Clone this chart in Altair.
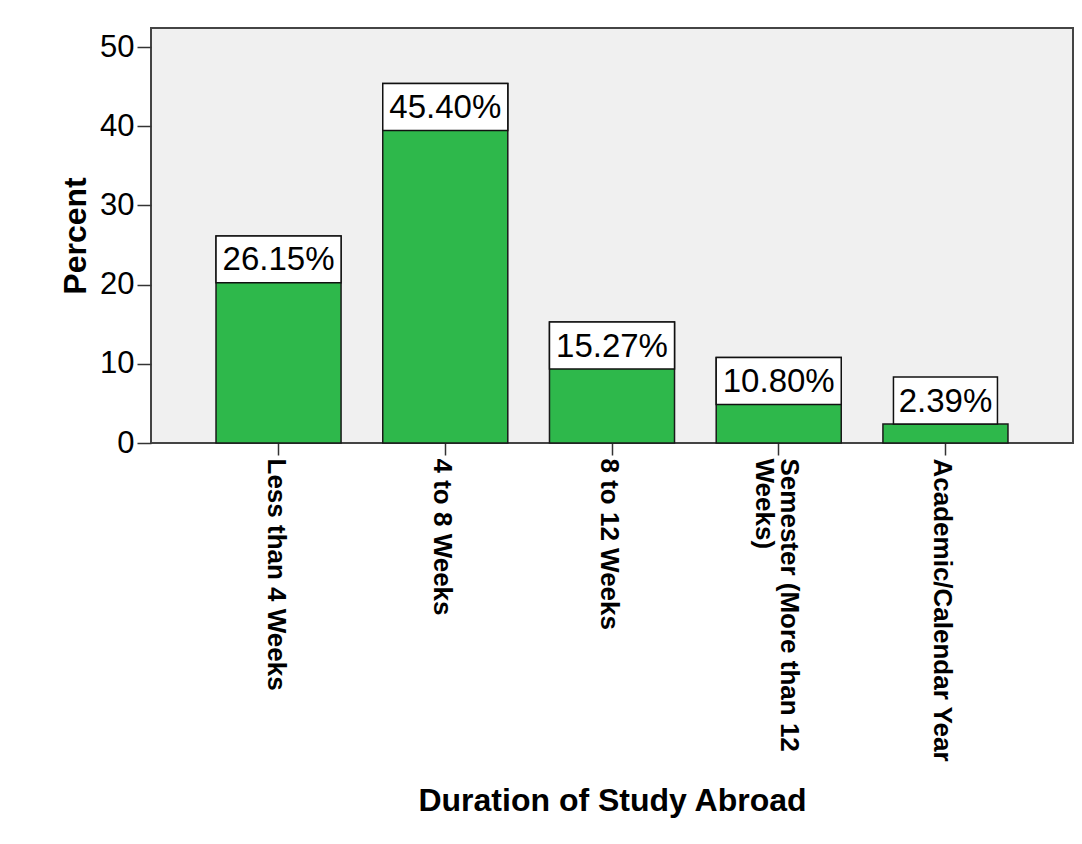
import altair as alt
import pandas as pd

categories = ["Less than 4 Weeks", "4 to 8 Weeks", "8 to 12 Weeks",
              "Semester (More than 12 Weeks)", "Academic/Calendar Year"]
percents = [26.15, 45.40, 15.27, 10.80, 2.39]
labels = ["26.15%", "45.40%", "15.27%", "10.80%", "2.39%"]
y_ticks = [0, 10, 20, 30, 40, 50]

df = pd.DataFrame({"cat": categories, "pct": percents, "label": labels})

FONT = "Liberation Sans, Arial, Helvetica, sans-serif"
BOX = 5.93  # label box height expressed in percent units
SEM = "Semester (More than 12 Weeks)"

x_enc = alt.X(
    "cat:N", sort=categories,
    scale=alt.Scale(paddingInner=0.25, paddingOuter=0.39),
    axis=alt.Axis(
        title="Duration of Study Abroad", labelAngle=90, labelAlign="left",
        labelBaseline="middle", labelFont=FONT, labelFontSize=26,
        labelFontWeight="bold", labelColor="black", labelPadding=3,
        labelLimit=400, labelLineHeight=25,
        labelOffset={"condition": {"test": f"datum.value == '{SEM}'", "value": 10}, "value": -3},
        labelExpr=f"datum.value == '{SEM}' ? ['Semester (More than 12', 'Weeks)'] : datum.label",
        tickSize=12, tickColor="#333", tickWidth=1.5, domain=False,
        titleFont=FONT, titleFontSize=32, titleFontWeight="bold",
        titleColor="black", titleY=367, titleBaseline="alphabetic",
    ),
)
y_scale = alt.Scale(domain=[0, 52.4], nice=False)
y_axis = alt.Axis(
    title="Percent", values=y_ticks, grid=False, domain=False,
    labelFont=FONT, labelFontSize=31, labelColor="black", labelPadding=3,
    tickSize=14, tickColor="#333", tickWidth=1.5,
    titleFont=FONT, titleFontSize=32, titleFontWeight="bold",
    titleColor="black", titleX=-66, titleBaseline="alphabetic",
)

base = alt.Chart(df)

bars = base.mark_bar(color="#2eb84b", stroke="#1a1a1a", strokeWidth=1.5).encode(
    x=x_enc, y=alt.Y("pct:Q", scale=y_scale, axis=y_axis)
)

boxed = base.transform_calculate(
    top=f"datum.pct < {BOX} ? datum.pct + {BOX} : datum.pct",
).transform_calculate(
    bot=f"datum.top - {BOX}", mid=f"datum.top - {BOX}/2"
)

box_big = boxed.transform_filter(f"datum.pct >= {BOX}").mark_bar(
    fill="white", stroke="#111", strokeWidth=1.5
).encode(x=alt.X("cat:N", sort=categories), y=alt.Y("top:Q", scale=y_scale), y2="bot:Q")

box_small = boxed.transform_filter(f"datum.pct < {BOX}").mark_bar(
    fill="white", stroke="#111", strokeWidth=1.5, width=104
).encode(x=alt.X("cat:N", sort=categories), y=alt.Y("top:Q", scale=y_scale), y2="bot:Q")

texts = boxed.mark_text(
    font=FONT, fontSize=33, color="black", baseline="middle", align="center", dy=1
).encode(x=alt.X("cat:N", sort=categories), y=alt.Y("mid:Q", scale=y_scale), text="label:N")

chart = alt.layer(bars, box_big, box_small, texts).properties(
    width=922, height=415,
    padding={"left": 143, "top": 20, "right": 1, "bottom": 392},
    autosize=alt.AutoSizeParams(type="none"),
    background="white",
).configure_view(
    fill="#f0f0f0", stroke="#444", strokeWidth=2
)

chart.save("out.html", embed_options={"renderer": "svg", "actions": False})
